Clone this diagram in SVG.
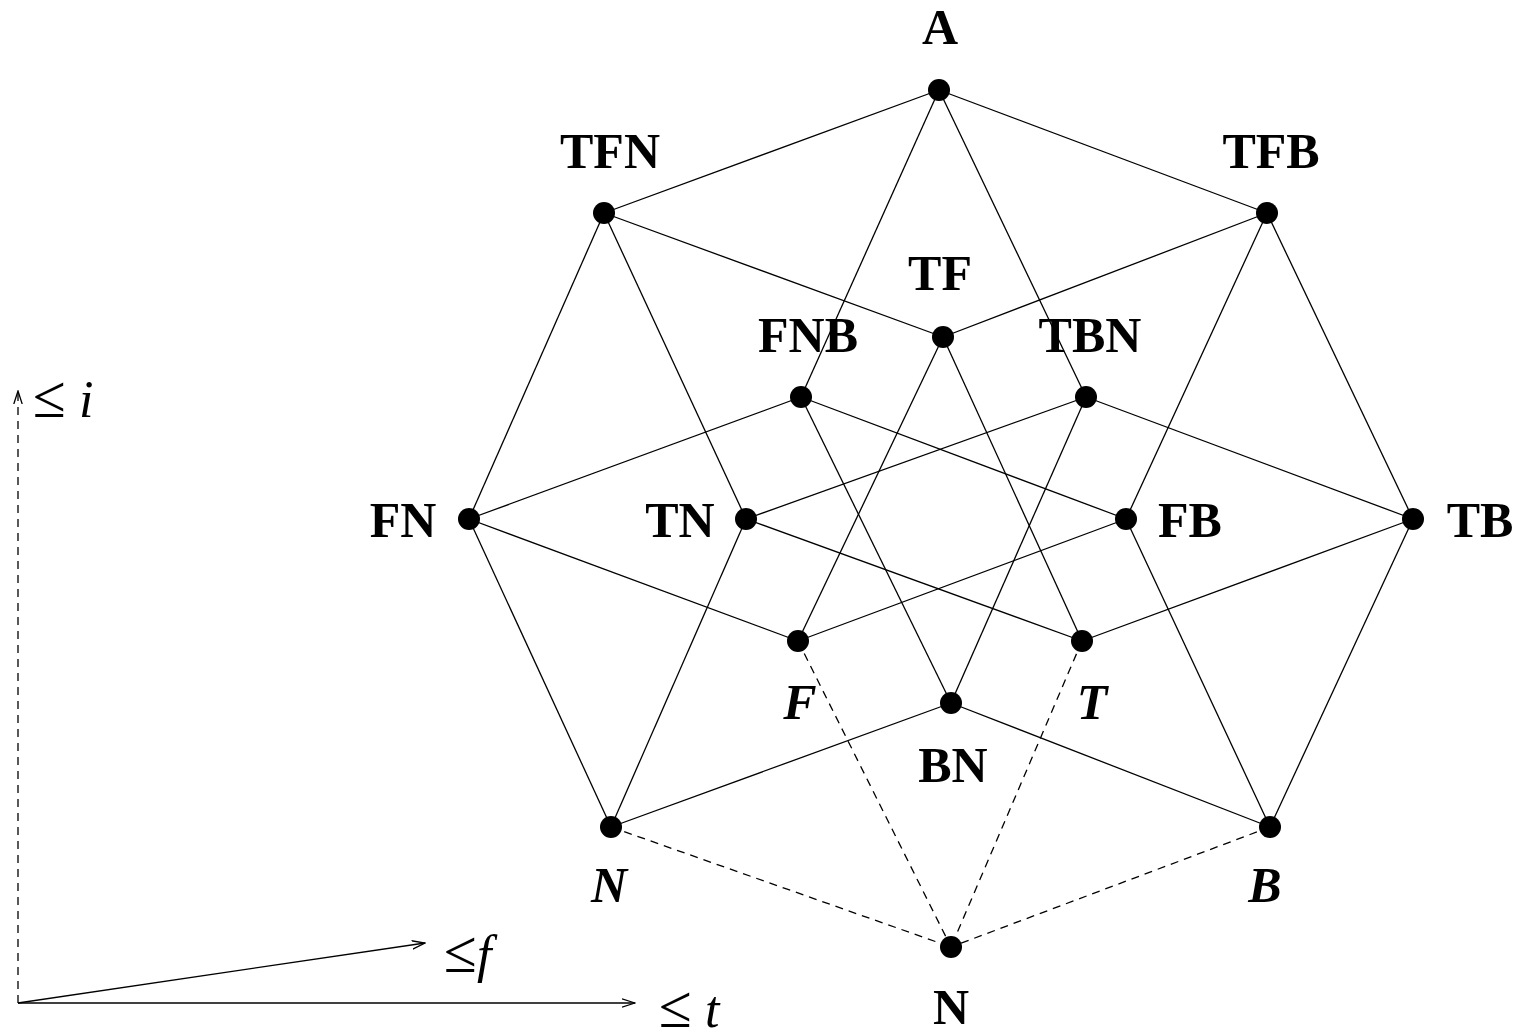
<svg xmlns="http://www.w3.org/2000/svg" width="1519" height="1032" viewBox="0 0 1519 1032">
  <defs>
    <marker id="vee" viewBox="0 0 14 10" refX="13" refY="5" markerWidth="14" markerHeight="10" markerUnits="userSpaceOnUse" orient="auto">
      <path d="M0,0.8 L13,5 L0,9.2" fill="none" stroke="#000" stroke-width="1.3"/>
    </marker>
  </defs>
  <style>
    .e { stroke: #000; stroke-width: 1.3; fill: none; }
    .d { stroke: #000; stroke-width: 1.3; fill: none; stroke-dasharray: 8 6; }
    .dot { fill: #000; }
    .lb { font-family: "Liberation Serif", "Times New Roman", serif; font-weight: bold; font-size: 50px; text-anchor: middle; }
    .it { font-style: italic; }
    .ax { font-family: "Liberation Serif", "Times New Roman", serif; font-size: 52px; }
    .le { font-size: 60px; }
  </style>
  <rect width="1519" height="1032" fill="#fff"/>

  <!-- lattice edges -->
  <g id="connectors">
    <line class="e" x1="939" y1="90" x2="604" y2="213"/>
    <line class="e" x1="939" y1="90" x2="1267" y2="213"/>
    <line class="e" x1="939" y1="90" x2="801" y2="397"/>
    <line class="e" x1="939" y1="90" x2="1086" y2="397"/>
    <line class="e" x1="604" y1="213" x2="943" y2="337"/>
    <line class="e" x1="1267" y1="213" x2="943" y2="337"/>
    <line class="e" x1="604" y1="213" x2="469" y2="519"/>
    <line class="e" x1="604" y1="213" x2="746" y2="519"/>
    <line class="e" x1="1267" y1="213" x2="1126" y2="519"/>
    <line class="e" x1="1267" y1="213" x2="1413" y2="519"/>
    <line class="e" x1="943" y1="337" x2="798" y2="641"/>
    <line class="e" x1="943" y1="337" x2="1082" y2="641"/>
    <line class="e" x1="801" y1="397" x2="469" y2="519"/>
    <line class="e" x1="801" y1="397" x2="1126" y2="519"/>
    <line class="e" x1="801" y1="397" x2="951" y2="703"/>
    <line class="e" x1="1086" y1="397" x2="746" y2="519"/>
    <line class="e" x1="1086" y1="397" x2="1413" y2="519"/>
    <line class="e" x1="1086" y1="397" x2="951" y2="703"/>
    <line class="e" x1="469" y1="519" x2="798" y2="641"/>
    <line class="e" x1="469" y1="519" x2="611" y2="827"/>
    <line class="e" x1="746" y1="519" x2="1082" y2="641"/>
    <line class="e" x1="746" y1="519" x2="611" y2="827"/>
    <line class="e" x1="1126" y1="519" x2="798" y2="641"/>
    <line class="e" x1="1126" y1="519" x2="1270" y2="827"/>
    <line class="e" x1="1413" y1="519" x2="1082" y2="641"/>
    <line class="e" x1="1413" y1="519" x2="1270" y2="827"/>
    <line class="e" x1="951" y1="703" x2="611" y2="827"/>
    <line class="e" x1="951" y1="703" x2="1270" y2="827"/>
    <line class="d" x1="611" y1="827" x2="951" y2="947"/>
    <line class="d" x1="798" y1="641" x2="951" y2="947"/>
    <line class="d" x1="1082" y1="641" x2="951" y2="947"/>
    <line class="d" x1="1270" y1="827" x2="951" y2="947"/>
  </g>

  <!-- nodes -->
  <g id="n-A"><circle class="dot" cx="939" cy="90" r="11"/><text class="lb" x="940" y="44">A</text></g>
  <g id="n-TFN"><circle class="dot" cx="604" cy="213" r="11"/><text class="lb" x="610" y="168">TFN</text></g>
  <g id="n-TFB"><circle class="dot" cx="1267" cy="213" r="11"/><text class="lb" x="1271" y="168">TFB</text></g>
  <g id="n-TF"><circle class="dot" cx="943" cy="337" r="11"/><text class="lb" x="940" y="290">TF</text></g>
  <g id="n-FNB"><circle class="dot" cx="801" cy="397" r="11"/><text class="lb" x="808" y="352">FNB</text></g>
  <g id="n-TBN"><circle class="dot" cx="1086" cy="397" r="11"/><text class="lb" x="1090" y="352">TBN</text></g>
  <g id="n-FN"><circle class="dot" cx="469" cy="519" r="11"/><text class="lb" x="403" y="537">FN</text></g>
  <g id="n-TN"><circle class="dot" cx="746" cy="519" r="11"/><text class="lb" x="680" y="537">TN</text></g>
  <g id="n-FB"><circle class="dot" cx="1126" cy="519" r="11"/><text class="lb" x="1190" y="537">FB</text></g>
  <g id="n-TB"><circle class="dot" cx="1413" cy="519" r="11"/><text class="lb" x="1480" y="537">TB</text></g>
  <g id="n-F"><circle class="dot" cx="798" cy="641" r="11"/><text class="lb it" x="800" y="719">F</text></g>
  <g id="n-T"><circle class="dot" cx="1082" cy="641" r="11"/><text class="lb it" x="1092" y="719">T</text></g>
  <g id="n-BN"><circle class="dot" cx="951" cy="703" r="11"/><text class="lb" x="953" y="782">BN</text></g>
  <g id="n-Nl"><circle class="dot" cx="611" cy="827" r="11"/><text class="lb it" x="609" y="902">N</text></g>
  <g id="n-B"><circle class="dot" cx="1270" cy="827" r="11"/><text class="lb it" x="1265" y="902">B</text></g>
  <g id="n-N"><circle class="dot" cx="951" cy="947" r="11"/><text class="lb" x="951" y="1024">N</text></g>

  <!-- order axes -->
  <g id="axes">
    <line class="d" x1="18" y1="1003" x2="18" y2="391" marker-end="url(#vee)"/>
    <line class="e" x1="18" y1="1003" x2="425" y2="943" marker-end="url(#vee)"/>
    <line class="e" x1="18" y1="1003" x2="635" y2="1003" marker-end="url(#vee)"/>
    <text class="ax" x="33" y="417"><tspan class="le">≤</tspan> <tspan font-style="italic">i</tspan></text>
    <text class="ax" x="444" y="972"><tspan class="le">≤</tspan><tspan font-style="italic">f</tspan></text>
    <text class="ax" x="659" y="1027"><tspan class="le">≤</tspan> <tspan font-style="italic">t</tspan></text>
  </g>
</svg>
